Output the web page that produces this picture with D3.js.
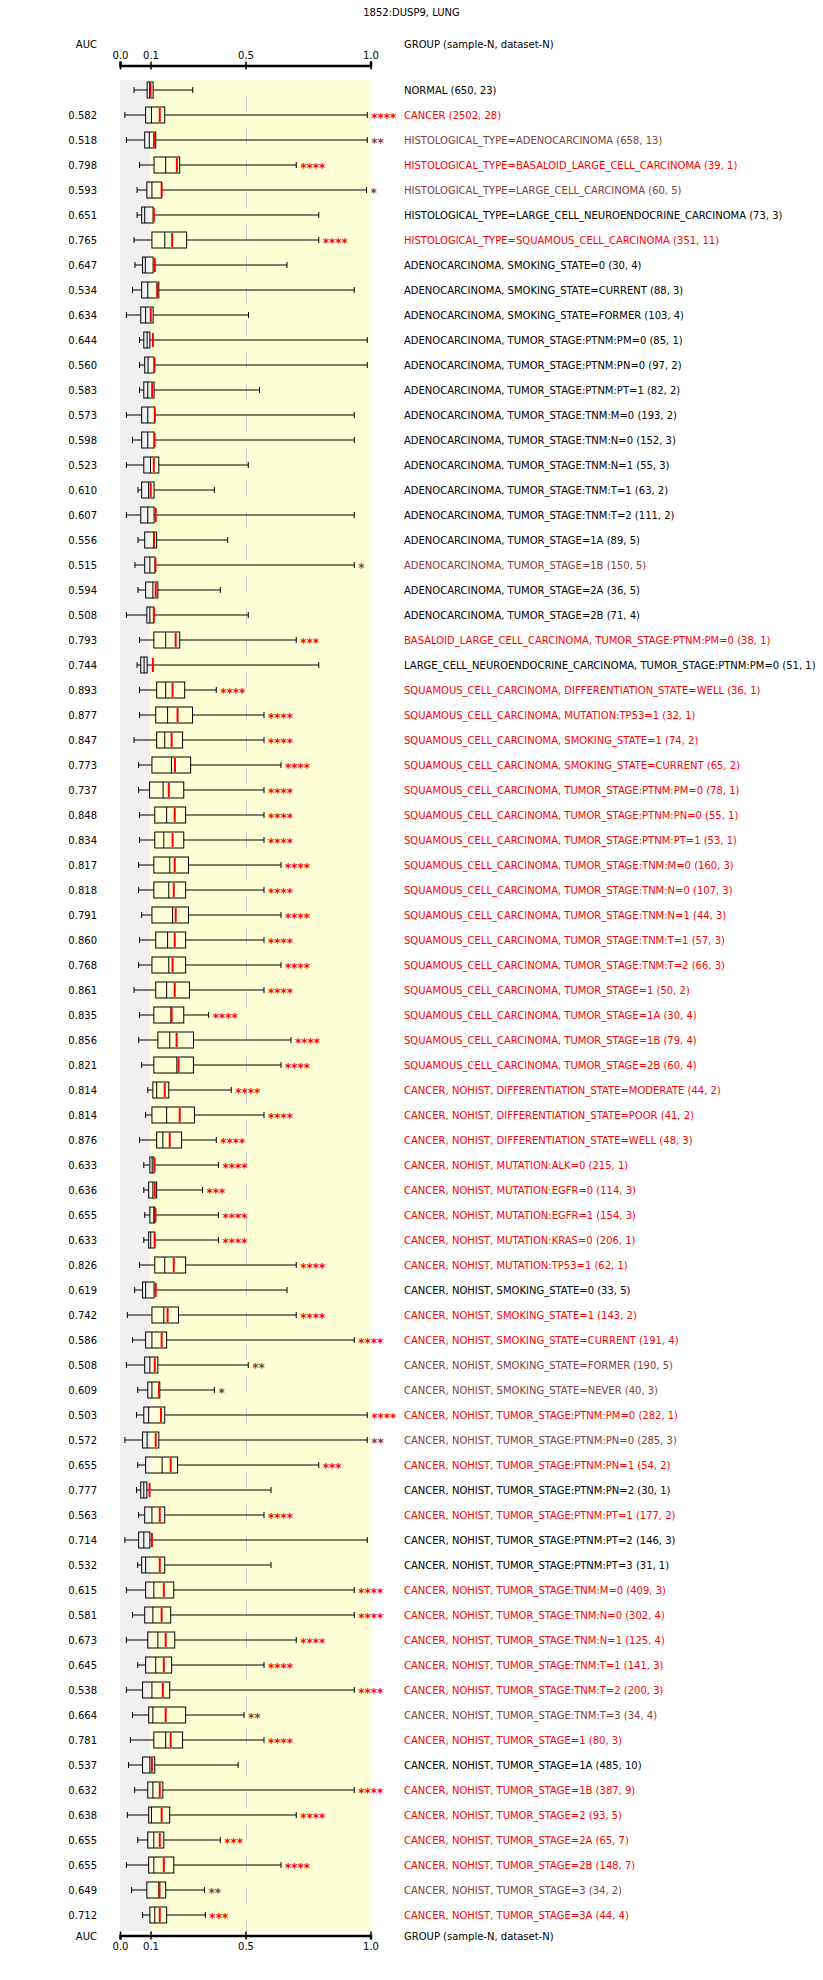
<!DOCTYPE html>
<html>
<head>
<meta charset="utf-8">
<script src="https://cdn.jsdelivr.net/npm/d3@7.9.0/dist/d3.min.js"></script>
<style>
  body { margin: 0; background: #fff; }
  svg text { font-family: "DejaVu Sans", sans-serif; font-size: 10px; }
</style>
</head>
<body>
<div id="chart"></div>
<script>
// Chart values
const title = '1852:DUSP9, LUNG';
const tickValues = [0, 0.1, 0.5, 1.0];

const groups = [
  'NORMAL', 'CANCER',
  'HISTOLOGICAL_TYPE=ADENOCARCINOMA', 'HISTOLOGICAL_TYPE=BASALOID_LARGE_CELL_CARCINOMA',
  'HISTOLOGICAL_TYPE=LARGE_CELL_CARCINOMA', 'HISTOLOGICAL_TYPE=LARGE_CELL_NEUROENDOCRINE_CARCINOMA',
  'HISTOLOGICAL_TYPE=SQUAMOUS_CELL_CARCINOMA',
  'ADENOCARCINOMA, SMOKING_STATE=0', 'ADENOCARCINOMA, SMOKING_STATE=CURRENT',
  'ADENOCARCINOMA, SMOKING_STATE=FORMER', 'ADENOCARCINOMA, TUMOR_STAGE:PTNM:PM=0',
  'ADENOCARCINOMA, TUMOR_STAGE:PTNM:PN=0', 'ADENOCARCINOMA, TUMOR_STAGE:PTNM:PT=1',
  'ADENOCARCINOMA, TUMOR_STAGE:TNM:M=0', 'ADENOCARCINOMA, TUMOR_STAGE:TNM:N=0',
  'ADENOCARCINOMA, TUMOR_STAGE:TNM:N=1', 'ADENOCARCINOMA, TUMOR_STAGE:TNM:T=1',
  'ADENOCARCINOMA, TUMOR_STAGE:TNM:T=2', 'ADENOCARCINOMA, TUMOR_STAGE=1A',
  'ADENOCARCINOMA, TUMOR_STAGE=1B', 'ADENOCARCINOMA, TUMOR_STAGE=2A',
  'ADENOCARCINOMA, TUMOR_STAGE=2B',
  'BASALOID_LARGE_CELL_CARCINOMA, TUMOR_STAGE:PTNM:PM=0',
  'LARGE_CELL_NEUROENDOCRINE_CARCINOMA, TUMOR_STAGE:PTNM:PM=0',
  'SQUAMOUS_CELL_CARCINOMA, DIFFERENTIATION_STATE=WELL', 'SQUAMOUS_CELL_CARCINOMA, MUTATION:TP53=1',
  'SQUAMOUS_CELL_CARCINOMA, SMOKING_STATE=1', 'SQUAMOUS_CELL_CARCINOMA, SMOKING_STATE=CURRENT',
  'SQUAMOUS_CELL_CARCINOMA, TUMOR_STAGE:PTNM:PM=0', 'SQUAMOUS_CELL_CARCINOMA, TUMOR_STAGE:PTNM:PN=0',
  'SQUAMOUS_CELL_CARCINOMA, TUMOR_STAGE:PTNM:PT=1', 'SQUAMOUS_CELL_CARCINOMA, TUMOR_STAGE:TNM:M=0',
  'SQUAMOUS_CELL_CARCINOMA, TUMOR_STAGE:TNM:N=0', 'SQUAMOUS_CELL_CARCINOMA, TUMOR_STAGE:TNM:N=1',
  'SQUAMOUS_CELL_CARCINOMA, TUMOR_STAGE:TNM:T=1', 'SQUAMOUS_CELL_CARCINOMA, TUMOR_STAGE:TNM:T=2',
  'SQUAMOUS_CELL_CARCINOMA, TUMOR_STAGE=1', 'SQUAMOUS_CELL_CARCINOMA, TUMOR_STAGE=1A',
  'SQUAMOUS_CELL_CARCINOMA, TUMOR_STAGE=1B', 'SQUAMOUS_CELL_CARCINOMA, TUMOR_STAGE=2B',
  'CANCER, NOHIST, DIFFERENTIATION_STATE=MODERATE', 'CANCER, NOHIST, DIFFERENTIATION_STATE=POOR',
  'CANCER, NOHIST, DIFFERENTIATION_STATE=WELL', 'CANCER, NOHIST, MUTATION:ALK=0',
  'CANCER, NOHIST, MUTATION:EGFR=0', 'CANCER, NOHIST, MUTATION:EGFR=1',
  'CANCER, NOHIST, MUTATION:KRAS=0', 'CANCER, NOHIST, MUTATION:TP53=1',
  'CANCER, NOHIST, SMOKING_STATE=0', 'CANCER, NOHIST, SMOKING_STATE=1',
  'CANCER, NOHIST, SMOKING_STATE=CURRENT', 'CANCER, NOHIST, SMOKING_STATE=FORMER',
  'CANCER, NOHIST, SMOKING_STATE=NEVER', 'CANCER, NOHIST, TUMOR_STAGE:PTNM:PM=0',
  'CANCER, NOHIST, TUMOR_STAGE:PTNM:PN=0', 'CANCER, NOHIST, TUMOR_STAGE:PTNM:PN=1',
  'CANCER, NOHIST, TUMOR_STAGE:PTNM:PN=2', 'CANCER, NOHIST, TUMOR_STAGE:PTNM:PT=1',
  'CANCER, NOHIST, TUMOR_STAGE:PTNM:PT=2', 'CANCER, NOHIST, TUMOR_STAGE:PTNM:PT=3',
  'CANCER, NOHIST, TUMOR_STAGE:TNM:M=0', 'CANCER, NOHIST, TUMOR_STAGE:TNM:N=0',
  'CANCER, NOHIST, TUMOR_STAGE:TNM:N=1', 'CANCER, NOHIST, TUMOR_STAGE:TNM:T=1',
  'CANCER, NOHIST, TUMOR_STAGE:TNM:T=2', 'CANCER, NOHIST, TUMOR_STAGE:TNM:T=3',
  'CANCER, NOHIST, TUMOR_STAGE=1', 'CANCER, NOHIST, TUMOR_STAGE=1A',
  'CANCER, NOHIST, TUMOR_STAGE=1B', 'CANCER, NOHIST, TUMOR_STAGE=2',
  'CANCER, NOHIST, TUMOR_STAGE=2A', 'CANCER, NOHIST, TUMOR_STAGE=2B',
  'CANCER, NOHIST, TUMOR_STAGE=3', 'CANCER, NOHIST, TUMOR_STAGE=3A'
];

const sampleN = [650, 2502, 658, 39, 60, 73, 351, 30, 88, 103, 85, 97, 82, 193, 152, 55, 63, 111, 89, 150,
  36, 71, 38, 51, 36, 32, 74, 65, 78, 55, 53, 160, 107, 44, 57, 66, 50, 30, 79, 60,
  44, 41, 48, 215, 114, 154, 206, 62, 33, 143, 191, 190, 40, 282, 285, 54, 30, 177, 146, 31,
  409, 302, 125, 141, 200, 34, 80, 485, 387, 93, 65, 148, 34, 44];

const datasetN = [23, 28, 13, 1, 5, 3, 11, 4, 3, 4, 1, 2, 2, 2, 3, 3, 2, 2, 5, 5,
  5, 4, 1, 1, 1, 1, 2, 2, 1, 1, 1, 3, 3, 3, 3, 3, 2, 4, 4, 4,
  2, 2, 3, 1, 3, 3, 1, 1, 5, 2, 4, 5, 3, 1, 3, 2, 1, 2, 3, 1,
  3, 4, 4, 3, 3, 4, 3, 10, 9, 5, 7, 7, 2, 4];

const auc = [null, 0.582, 0.518, 0.798, 0.593, 0.651, 0.765, 0.647, 0.534, 0.634, 0.644, 0.560, 0.583, 0.573,
  0.598, 0.523, 0.610, 0.607, 0.556, 0.515, 0.594, 0.508, 0.793, 0.744, 0.893, 0.877, 0.847, 0.773,
  0.737, 0.848, 0.834, 0.817, 0.818, 0.791, 0.860, 0.768, 0.861, 0.835, 0.856, 0.821, 0.814, 0.814,
  0.876, 0.633, 0.636, 0.655, 0.633, 0.826, 0.619, 0.742, 0.586, 0.508, 0.609, 0.503, 0.572, 0.655,
  0.777, 0.563, 0.714, 0.532, 0.615, 0.581, 0.673, 0.645, 0.538, 0.664, 0.781, 0.537, 0.632, 0.638,
  0.655, 0.655, 0.649, 0.712];

const stars = ['', '****', '**', '****', '*', '', '****', '', '', '', '', '', '', '', '', '', '', '', '', '*',
  '', '', '***', '', '****', '****', '****', '****', '****', '****', '****', '****', '****', '****', '****', '****', '****', '****', '****', '****',
  '****', '****', '****', '****', '***', '****', '****', '****', '', '****', '****', '**', '*', '****', '**', '***', '', '****', '', '',
  '****', '****', '****', '****', '****', '**', '****', '', '****', '****', '***', '****', '**', '***'];

const whiskerLow = [0.046, 0.016, 0.021, 0.064, 0.056, 0.056, 0.046, 0.049, 0.041, 0.021, 0.064, 0.064, 0.064, 0.021,
  0.041, 0.021, 0.059, 0.021, 0.059, 0.049, 0.059, 0.021, 0.064, 0.056, 0.064, 0.064, 0.046, 0.061,
  0.061, 0.064, 0.064, 0.061, 0.061, 0.071, 0.064, 0.061, 0.046, 0.064, 0.061, 0.071, 0.091, 0.084,
  0.064, 0.078, 0.078, 0.081, 0.078, 0.064, 0.048, 0.024, 0.041, 0.021, 0.058, 0.054, 0.016, 0.058,
  0.054, 0.061, 0.016, 0.058, 0.021, 0.041, 0.021, 0.058, 0.021, 0.041, 0.034, 0.028, 0.048, 0.024,
  0.058, 0.021, 0.038, 0.074];

const q1 = [0.089, 0.084, 0.081, 0.115, 0.088, 0.071, 0.106, 0.074, 0.071, 0.068, 0.078, 0.081, 0.078, 0.071,
  0.071, 0.078, 0.071, 0.068, 0.081, 0.081, 0.084, 0.088, 0.114, 0.068, 0.126, 0.122, 0.126, 0.106,
  0.097, 0.118, 0.118, 0.114, 0.114, 0.106, 0.122, 0.106, 0.122, 0.114, 0.131, 0.114, 0.110, 0.106,
  0.126, 0.098, 0.094, 0.098, 0.094, 0.118, 0.074, 0.106, 0.084, 0.081, 0.091, 0.078, 0.074, 0.084,
  0.068, 0.081, 0.061, 0.071, 0.084, 0.081, 0.091, 0.084, 0.074, 0.094, 0.114, 0.074, 0.091, 0.094,
  0.091, 0.094, 0.088, 0.098];

const median = [0.097, 0.104, 0.096, 0.164, 0.106, 0.081, 0.160, 0.083, 0.091, 0.084, 0.089, 0.092, 0.091, 0.091,
  0.091, 0.100, 0.094, 0.091, 0.113, 0.098, 0.110, 0.098, 0.164, 0.079, 0.164, 0.172, 0.160, 0.188,
  0.153, 0.168, 0.156, 0.181, 0.177, 0.193, 0.172, 0.177, 0.168, 0.186, 0.181, 0.211, 0.126, 0.168,
  0.152, 0.107, 0.110, 0.114, 0.101, 0.160, 0.084, 0.156, 0.106, 0.098, 0.106, 0.094, 0.089, 0.149,
  0.078, 0.106, 0.078, 0.084, 0.114, 0.110, 0.131, 0.122, 0.106, 0.110, 0.164, 0.098, 0.110, 0.104,
  0.114, 0.114, 0.135, 0.118];

const mean = [0.100, 0.139, 0.115, 0.211, 0.147, 0.114, 0.191, 0.118, 0.128, 0.101, 0.110, 0.117, 0.107, 0.118,
  0.117, 0.114, 0.101, 0.122, 0.115, 0.121, 0.122, 0.114, 0.206, 0.110, 0.193, 0.214, 0.189, 0.203,
  0.177, 0.202, 0.193, 0.202, 0.198, 0.206, 0.202, 0.193, 0.202, 0.189, 0.210, 0.218, 0.160, 0.223,
  0.181, 0.117, 0.118, 0.121, 0.117, 0.198, 0.122, 0.172, 0.147, 0.118, 0.136, 0.144, 0.122, 0.185,
  0.097, 0.139, 0.106, 0.139, 0.156, 0.147, 0.164, 0.156, 0.152, 0.164, 0.185, 0.106, 0.139, 0.147,
  0.139, 0.156, 0.138, 0.139];

const q3 = [0.111, 0.160, 0.122, 0.223, 0.147, 0.111, 0.252, 0.111, 0.135, 0.111, 0.098, 0.115, 0.115, 0.118,
  0.115, 0.135, 0.115, 0.115, 0.126, 0.119, 0.131, 0.114, 0.223, 0.089, 0.244, 0.277, 0.235, 0.269,
  0.240, 0.248, 0.240, 0.260, 0.248, 0.260, 0.248, 0.248, 0.264, 0.240, 0.281, 0.281, 0.177, 0.285,
  0.231, 0.115, 0.126, 0.118, 0.118, 0.248, 0.115, 0.218, 0.168, 0.131, 0.139, 0.160, 0.135, 0.214,
  0.088, 0.160, 0.098, 0.160, 0.198, 0.185, 0.202, 0.189, 0.181, 0.248, 0.235, 0.118, 0.152, 0.181,
  0.156, 0.198, 0.164, 0.168];

const whiskerHigh = [0.278, 0.987, 0.987, 0.703, 0.984, 0.793, 0.793, 0.666, 0.935, 0.512, 0.987, 0.987, 0.556, 0.935,
  0.935, 0.511, 0.369, 0.935, 0.425, 0.935, 0.394, 0.511, 0.703, 0.793, 0.377, 0.574, 0.574, 0.642,
  0.574, 0.574, 0.574, 0.642, 0.574, 0.642, 0.574, 0.642, 0.574, 0.345, 0.682, 0.642, 0.440, 0.574,
  0.377, 0.386, 0.319, 0.386, 0.386, 0.703, 0.666, 0.703, 0.935, 0.511, 0.369, 0.987, 0.987, 0.793,
  0.602, 0.574, 0.987, 0.602, 0.935, 0.935, 0.703, 0.574, 0.935, 0.494, 0.574, 0.469, 0.935, 0.703,
  0.394, 0.642, 0.327, 0.331];

const RED = '#ff0000';
const BROWN = '#804040';
function sigColor(s) {
  if (s.length >= 3) return RED;
  if (s.length >= 1) return BROWN;
  return '#000';
}

const rows = groups.map((g, i) => ({
  i,
  label: `${g} (${sampleN[i]}, ${datasetN[i]})`,
  auc: auc[i],
  stars: stars[i],
  lo: whiskerLow[i], q1: q1[i], med: median[i], mean: mean[i], q3: q3[i], hi: whiskerHigh[i],
}));

const width = 823;
const height = 1980;

const svg = d3.select('#chart')
  .append('svg')
  .attr('width', width)
  .attr('height', height);

// the AUC axis is stretched between 0.0 and 0.1
const x = d3.scaleLinear().domain(tickValues).range([120, 150.5, 245.5, 370.5]);
const y = d3.scalePoint().domain(d3.range(rows.length)).range([90, 90 + 25 * (rows.length - 1)]);

const plotTop = 80;
const plotBottom = y(rows.length - 1) + 16;

// backgrounds
svg.append('rect')
  .attr('x', x(0)).attr('y', plotTop)
  .attr('width', x(0.1) - x(0)).attr('height', plotBottom - plotTop)
  .attr('fill', '#f0f0f0');
svg.append('rect')
  .attr('x', x(0.1)).attr('y', plotTop)
  .attr('width', x(1) - x(0.1)).attr('height', plotBottom - plotTop)
  .attr('fill', '#ffffd6');

svg.append('line')
  .attr('x1', Math.round(x(0.5)) + 0.5).attr('x2', Math.round(x(0.5)) + 0.5)
  .attr('y1', 96).attr('y2', plotBottom)
  .attr('stroke', '#c8c8c8')
  .attr('stroke-dasharray', '16,16');

// title and headers
svg.append('text')
  .attr('x', width / 2).attr('y', 16)
  .attr('text-anchor', 'middle')
  .text(title);

function headers(yy) {
  svg.append('text').attr('x', 97).attr('y', yy).attr('dy', '0.35em')
    .attr('text-anchor', 'end').text('AUC');
  svg.append('text').attr('x', 404).attr('y', yy).attr('dy', '0.35em')
    .text('GROUP (sample-N, dataset-N)');
}
headers(44);
headers(plotBottom + 5);

// axes
function styleAxis(g) {
  g.select('.domain').attr('stroke-width', 2.5);
  g.selectAll('.tick line').attr('y1', -4).attr('y2', 4).attr('stroke-width', 1.5);
  g.selectAll('.tick text')
    .attr('font-family', '"DejaVu Sans", sans-serif')
    .attr('font-size', 10)
    .attr('fill', '#000');
}

svg.append('g')
  .attr('transform', 'translate(0,65.5)')
  .call(d3.axisTop(x).tickValues(tickValues).tickFormat(d3.format('.1f'))
    .tickSizeOuter(0).tickSize(4).tickPadding(3))
  .call(styleAxis);

svg.append('g')
  .attr('transform', `translate(0,${plotBottom + 4.5})`)
  .call(d3.axisBottom(x).tickValues(tickValues).tickFormat(d3.format('.1f'))
    .tickSizeOuter(0).tickSize(4).tickPadding(3))
  .call(styleAxis);

// box plots
const row = svg.append('g')
  .attr('class', 'rows')
  .selectAll('g')
  .data(rows)
  .join('g')
  .attr('transform', (d) => `translate(0,${y(d.i)})`);

row.append('line')
  .attr('x1', (d) => x(d.lo)).attr('x2', (d) => x(d.q1))
  .attr('stroke', '#000');
row.append('line')
  .attr('x1', (d) => x(d.q3)).attr('x2', (d) => x(d.hi))
  .attr('stroke', '#000');
row.append('line')
  .attr('x1', (d) => x(d.lo)).attr('x2', (d) => x(d.lo))
  .attr('y1', -3).attr('y2', 3)
  .attr('stroke', '#000');
row.append('line')
  .attr('x1', (d) => x(d.hi)).attr('x2', (d) => x(d.hi))
  .attr('y1', -3).attr('y2', 3)
  .attr('stroke', '#000');
row.append('rect')
  .attr('x', (d) => Math.min(x(d.q1), x(d.q3)))
  .attr('y', -8)
  .attr('width', (d) => Math.abs(x(d.q3) - x(d.q1)))
  .attr('height', 16)
  .attr('fill', 'none')
  .attr('stroke', '#000');
row.append('line')
  .attr('x1', (d) => x(d.med)).attr('x2', (d) => x(d.med))
  .attr('y1', -8).attr('y2', 8)
  .attr('stroke', '#000');
row.append('line')
  .attr('x1', (d) => x(d.mean)).attr('x2', (d) => x(d.mean))
  .attr('y1', -7).attr('y2', 7)
  .attr('stroke', RED)
  .attr('stroke-width', 2);

row.append('text')
  .attr('x', (d) => x(d.hi) + 4)
  .attr('y', 7)
  .attr('fill', (d) => sigColor(d.stars))
  .style('font-size', '12px')
  .style('font-weight', 'bold')
  .text((d) => d.stars);

row.append('text')
  .attr('x', 97)
  .attr('dy', '0.35em')
  .attr('text-anchor', 'end')
  .text((d) => (d.auc == null ? '' : d.auc.toFixed(3)));

row.append('text')
  .attr('x', 404)
  .attr('dy', '0.35em')
  .attr('fill', (d) => sigColor(d.stars))
  .text((d) => d.label);
</script>
</body>
</html>
